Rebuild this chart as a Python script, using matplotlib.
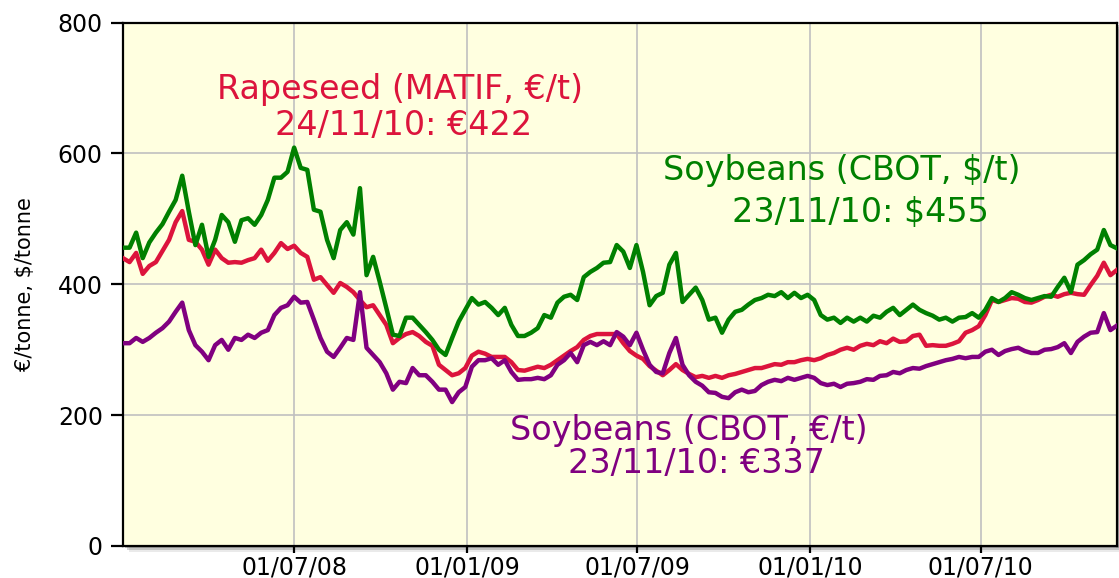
import matplotlib
matplotlib.use("Agg")
import matplotlib.pyplot as plt
import matplotlib.dates as mdates
from matplotlib.patches import Rectangle
import pandas as pd

# weekly closing prices, starting 1 Jan 2008
week_start = "2008-01-01"

rapeseed_eur = [
    440, 434, 448, 416, 428, 434, 451, 468, 495, 512,
    468, 465, 453, 430, 453, 440, 433, 434, 433, 437,
    440, 453, 436, 448, 463, 454, 459, 448, 442, 407,
    411, 399, 387, 402, 396, 388, 376, 365, 368, 353,
    338, 310, 318, 324, 327, 321, 312, 306, 277, 269,
    261, 264, 272, 291, 297, 294, 289, 289, 289, 281,
    269, 268, 271, 274, 272, 277, 284, 291, 298, 304,
    315, 321, 324, 324, 324, 324, 310, 298, 291, 286,
    275, 268, 261, 269, 278, 269, 263, 258, 260, 257,
    260, 257, 261, 263, 266, 269, 272, 272, 275, 278,
    277, 281, 281, 284, 286, 284, 287, 292, 295, 300,
    303, 300, 306, 309, 307, 313, 310, 317, 312, 313,
    321, 323, 306, 307, 306, 306, 309, 313, 326, 330,
    336, 353, 376, 373, 376, 379, 378, 373, 372, 376,
    381, 384, 381, 385, 387, 385, 384, 399, 413, 433,
    414, 422,
]

soy_usd = [
    456, 456, 479, 440, 464, 479, 492, 511, 529, 566,
    511, 460, 491, 442, 468, 506, 495, 465, 498, 501,
    491, 506, 529, 563, 563, 572, 609, 578, 575, 514,
    511, 468, 440, 483, 495, 476, 547, 414, 442, 404,
    364, 323, 321, 349, 349, 338, 327, 315, 300, 292,
    318, 343, 361, 379, 369, 373, 364, 353, 364, 338,
    321, 321, 326, 333, 353, 349, 372, 381, 384, 376,
    411, 419, 425, 433, 434, 460, 450, 425, 460, 419,
    368, 382, 387, 430, 448, 373, 384, 395, 376, 346,
    349, 326, 346, 358, 361, 369, 376, 379, 384, 382,
    388, 379, 387, 379, 384, 376, 353, 346, 349, 341,
    349, 343, 349, 343, 352, 349, 358, 364, 353, 361,
    369, 361, 356, 352, 346, 349, 343, 349, 350, 356,
    349, 361, 379, 373, 379, 388, 384, 379, 376, 379,
    382, 381, 396, 410, 388, 430, 437, 446, 453, 483,
    460, 455,
]

soy_eur = [
    310, 310, 318, 312, 318, 326, 333, 343, 358, 372,
    330, 307, 297, 284, 307, 315, 300, 318, 315, 323,
    318, 326, 330, 353, 364, 368, 381, 372, 373, 346,
    318, 297, 289, 303, 318, 315, 388, 303, 292, 281,
    264, 239, 251, 249, 272, 261, 261, 251, 239, 239,
    220, 235, 243, 274, 284, 284, 287, 277, 284, 266,
    254, 255, 255, 257, 255, 261, 277, 284, 295, 281,
    307, 312, 307, 313, 307, 327, 320, 307, 326, 300,
    277, 266, 264, 295, 318, 277, 261, 251, 245, 235,
    234, 228, 226, 235, 239, 235, 237, 246, 251, 254,
    252, 257, 254, 257, 260, 257, 249, 246, 248, 243,
    248, 249, 251, 255, 254, 260, 261, 266, 264, 269,
    272, 271, 275, 278, 281, 284, 286, 289, 287, 289,
    289, 297, 300, 292, 298, 301, 303, 298, 295, 295,
    300, 301, 304, 310, 295, 312, 320, 326, 327, 356,
    330, 337,
]

x_ticks = ["2008-07-01", "2009-01-01", "2009-07-01", "2010-01-01", "2010-07-01"]

# (text, centre date, baseline value) for each annotation line
rapeseed_note = [("Rapeseed (MATIF, €/t)", "2008-10-22", 683),
                 ("24/11/10: €422", "2008-10-25", 628)]
soy_usd_note = [("Soybeans (CBOT, $/t)", "2010-02-03", 560),
                ("23/11/10: $455", "2010-02-23", 495)]
soy_eur_note = [("Soybeans (CBOT, €/t)", "2009-08-25", 162),
                ("23/11/10: €337", "2009-09-02", 112)]

RED = "#dc143c"
GREEN = "#008000"
PURPLE = "#800080"

dates = pd.date_range(week_start, periods=len(soy_usd), freq="7D")

plt.rcParams["font.family"] = ["DejaVu Sans"]

fig = plt.figure(figsize=(11.19, 5.78), dpi=100)
ax = fig.add_axes([0.1099, 0.0554, 0.8883, 0.9054])
ax.set_facecolor("#ffffe0")

# soft drop shadow under the plot frame
for off, a in [(2, 0.35), (4, 0.25), (6, 0.12)]:
    fig.patches.append(Rectangle((123 + off, 32 - off), 994, 523.3,
                                 transform=None, color="#555555",
                                 alpha=a, zorder=-5, lw=0))

ax.plot(dates, rapeseed_eur, color=RED, lw=3.2, zorder=3, solid_joinstyle="round")
ax.plot(dates, soy_eur, color=PURPLE, lw=3.2, zorder=4, solid_joinstyle="round")
ax.plot(dates, soy_usd, color=GREEN, lw=3.2, zorder=5, solid_joinstyle="round")

for note, col in [(rapeseed_note, RED), (soy_usd_note, GREEN), (soy_eur_note, PURPLE)]:
    for txt, d, v in note:
        ax.text(pd.Timestamp(d), v, txt, color=col, fontsize=24,
                ha="center", va="baseline", zorder=6)

ax.set_xlim(dates[0], dates[-1])
ax.set_ylim(0, 800)
ax.set_yticks([0, 200, 400, 600, 800])
ax.set_xticks(pd.to_datetime(x_ticks))
ax.xaxis.set_major_formatter(mdates.DateFormatter("%d/%m/%y"))

ax.grid(True, color="#c0c0c0", lw=1.2, zorder=1)
ax.set_axisbelow(True)

for s in ax.spines.values():
    s.set_linewidth(1.6)
    s.set_color("black")

ax.tick_params(axis="y", length=8.5, width=1.6, pad=6, labelsize=17)
ax.tick_params(axis="x", length=5, width=1.6, pad=2, labelsize=17)
ax.set_ylabel("€/tonne, $/tonne", fontsize=15, labelpad=16)

fig.savefig("out.png", dpi=100)
